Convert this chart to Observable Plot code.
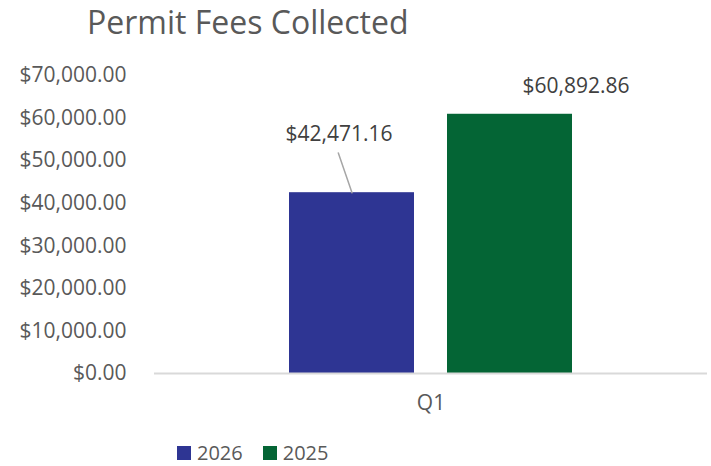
<!DOCTYPE html>
<html>
<head>
<meta charset="utf-8">
<script src="https://cdn.jsdelivr.net/npm/d3@7"></script>
<script src="https://cdn.jsdelivr.net/npm/@observablehq/plot@0.6"></script>
<style>
  html, body { margin: 0; padding: 0; background: #fff; }
  body { width: 711px; height: 466px; overflow: hidden; font-family: "Open Sans", sans-serif; position: relative; }
  #title { position: absolute; left: 87px; top: 0px; font-size: 32px; color: #595959; line-height: 44px; white-space: nowrap; }
  #chart { position: absolute; left: 0; top: 50px; }
  #legend { position: absolute; left: 177px; top: 441px; display: flex; align-items: center; font-size: 20px; color: #595959; line-height: 24px; }
  .sw { width: 14px; height: 14px; display: inline-block; margin-right: 6px; }
  .item { display: flex; align-items: center; margin-right: 20px; }
</style>
</head>
<body>
<div id="title">Permit Fees Collected</div>
<div id="chart"></div>
<div id="legend"></div>
<script>
const titleText = "Permit Fees Collected";
const categories = ["Q1"];
const seriesNames = ["2026", "2025"];
const seriesValues = [42471.16, 60892.86];
const seriesColors = ["#2E3593", "#046535"];
const yTickValues = [0, 10000, 20000, 30000, 40000, 50000, 60000, 70000];

const fmt = d3.format("$,.2f");
const data = seriesNames.map((s, i) => ({quarter: categories[0], series: s, value: seriesValues[i]}));
const d2026 = data.filter(d => d.series === "2026");
const d2025 = data.filter(d => d.series === "2025");

const leader = {
  draw(context, l) { context.moveTo(0, 0); context.lineTo(0, -l); }
};

const chart = Plot.plot({
  width: 711,
  height: 380,
  marginTop: 25,
  marginLeft: 154,
  marginRight: 4,
  marginBottom: 57,
  style: {fontFamily: "Open Sans, sans-serif", fontSize: "21px", color: "#595959", background: "transparent"},
  fx: {domain: categories, padding: 0, label: null, axis: "bottom", tickSize: 0, tickPadding: 22},
  x: {domain: seriesNames, paddingInner: 0.209, paddingOuter: 0.854, axis: null},
  y: {domain: [0, 70000], ticks: yTickValues, tickFormat: fmt, tickSize: 0, tickPadding: 28, label: null},
  color: {domain: seriesNames, range: seriesColors},
  marks: [
    Plot.barY(data, {fx: "quarter", x: "series", y: "value", fill: "series"}),
    Plot.ruleY([0], {stroke: "#d9d9d9", strokeWidth: 2}),
    Plot.vector(d2026, {fx: "quarter", x: "series", y: "value", length: 42, rotate: -19, anchor: "start", shape: leader, stroke: "#a6a6a6", strokeWidth: 1.5}),
    Plot.text(d2026, {fx: "quarter", x: "series", y: "value", text: d => fmt(d.value), dx: -13, dy: -58, fill: "#404040", fontSize: 21}),
    Plot.text(d2025, {fx: "quarter", x: "series", y: "value", text: d => fmt(d.value), dx: 66, dy: -28, fill: "#404040", fontSize: 21})
  ]
});
document.getElementById("chart").append(chart);

const legend = document.getElementById("legend");
seriesNames.forEach((s, i) => {
  const item = document.createElement("div");
  item.className = "item";
  const sw = document.createElement("span");
  sw.className = "sw";
  sw.style.background = seriesColors[i];
  const t = document.createElement("span");
  t.textContent = s;
  item.append(sw, t);
  legend.append(item);
});
</script>
</body>
</html>
